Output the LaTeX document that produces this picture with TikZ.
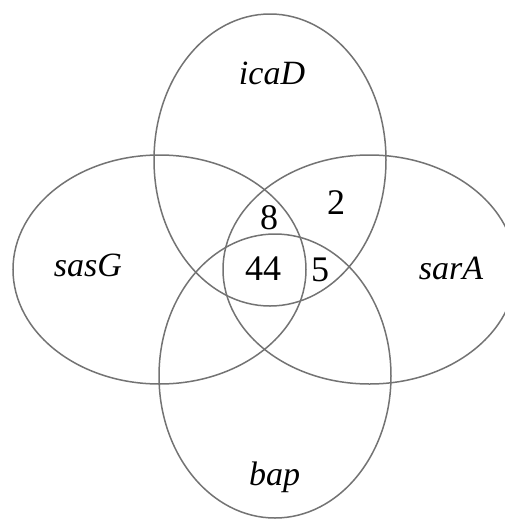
\documentclass[tikz,border=0pt]{standalone}
\usepackage{fontspec}
\setmainfont{Liberation Serif}
\usepackage{tikz}

\tikzset{
  set/.style={draw=black!55, line width=1.5pt},
  gene/.style={font=\fontsize{34}{40}\selectfont\itshape, inner sep=0pt},
  count/.style={font=\fontsize{36}{42}\selectfont, inner sep=0pt}
}

\begin{document}
\begin{tikzpicture}[x=1pt, y=-1pt]
\useasboundingbox (0,0) rectangle (505,520);
\clip (0,0) rectangle (505,520);
% The four sets
\draw[set] (270,160) ellipse (116 and 146);
\draw[set] (159.5,269.5) ellipse (146.5 and 114.5);
\draw[set] (369.5,269.5) ellipse (146.5 and 114.5);
\draw[set] (275,376) ellipse (116 and 142);
% Set names
\node[gene] (icad) at (272,73) {icaD};
\node[gene] (sasg) at (88,265) {sasG};
\node[gene] (sara) at (451,268) {sarA};
\node[gene] (bap) at (274.5,477) {bap};
% Counts
\node[count] (n8) at (269,218) {8};
\node[count] (n2) at (336,203) {2};
\node[count] (n44) at (263,269) {44};
\node[count] (n5) at (320,270) {5};
\end{tikzpicture}
\end{document}
